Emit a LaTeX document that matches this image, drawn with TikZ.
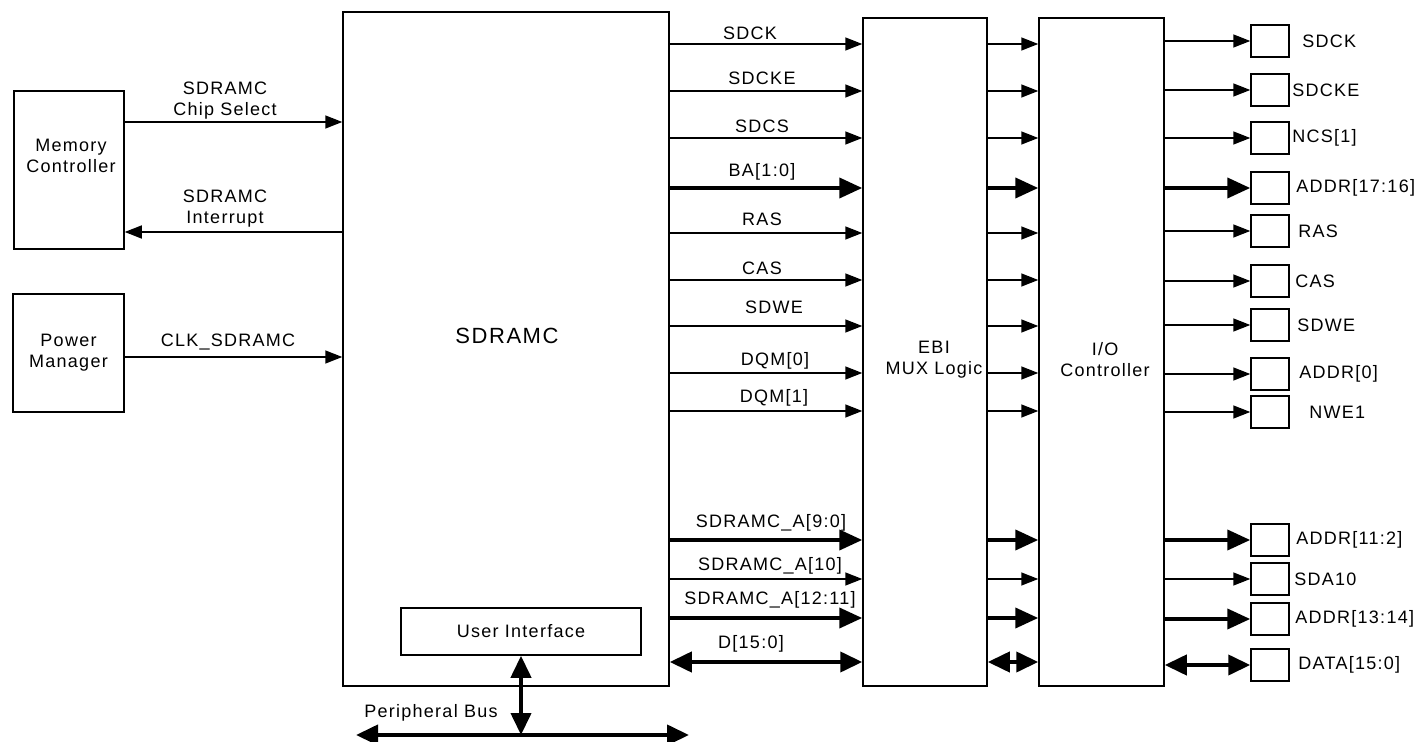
\documentclass[tikz,border=0pt]{standalone}
\usepackage{fontspec}
\setmainfont{Liberation Sans}[LetterSpace=7]
\usetikzlibrary{arrows.meta}

\tikzset{
  block/.style  = {draw, line width = 0.75pt, inner sep = 0pt, align = center},
  pinbox/.style = {draw, line width = 0.75pt, inner sep = 0pt,
                   minimum width = 19pt, minimum height = 16pt},
  txt/.style    = {inner sep = 0pt, align = center},
  sig/.style    = {line width = 0.8pt, -{Triangle[length=8.5pt, width=6.5pt]}},
  bus/.style    = {line width = 2pt, -{Triangle[length=11.5pt, width=10pt]}},
  dbus/.style   = {line width = 2pt,
                   {Triangle[length=11pt, width=10pt]}-{Triangle[length=11pt, width=10pt]}}
}

\begin{document}
\begin{tikzpicture}[x=0.5pt, y=-0.5pt, font=\fontsize{9}{10.5}\selectfont]
  \useasboundingbox (0,0) rectangle (1418,742);

  % blocks
  \node[block, minimum width=55pt,  minimum height=79pt]  (mc)     at (69,170)    {};
  \node[block, minimum width=55.5pt, minimum height=59pt] (pm)     at (68.5,353)  {Power\\Manager};
  \node[block, minimum width=163pt, minimum height=337pt] (sdramc) at (506,349)   {};
  \node[block, minimum width=120pt, minimum height=23.5pt] (ui)    at (521,631.5) {User Interface};
  \node[block, minimum width=62pt,  minimum height=334pt] (ebi)    at (925,352)   {};
  \node[block, minimum width=62.5pt, minimum height=334pt] (io)    at (1101.5,352) {};

  \node[txt] (mctext)     at (71,156)   {Memory\\Controller};
  \node[txt, font=\fontsize{11}{13}\selectfont] (sdramctext) at (507,336) {SDRAMC};
  \node[txt] (ebitext)    at (934,360)  {EBI\\MUX Logic};
  \node[txt] (iotext)     at (1105,360) {I/O\\Controller};

  % left side
  \draw[sig] (mc.east |- 0,122) -- (sdramc.west |- 0,122);
  \draw[sig] (sdramc.west |- 0,232) -- (mc.east |- 0,232);
  \draw[sig] (pm.east |- 0,357) -- (sdramc.west |- 0,357);
  \node[txt] (cslabel)  at (225,101) {SDRAMC\\Chip Select};
  \node[txt] (irqlabel) at (225,209) {SDRAMC\\Interrupt};
  \node[txt] (clklabel) at (228,342) {CLK\_SDRAMC};

  % SDRAMC -> EBI -> I/O
  \foreach \y/\lx/\ly/\sigtext/\kind in {
      44/750/33/SDCK/sig,
      91/762/78/SDCKE/sig,
      138/762/126/SDCS/sig,
      188/762/172/{BA[1:0]}/bus,
      233/762/219/RAS/sig,
      280/762/268/CAS/sig,
      326/774/307/SDWE/sig,
      373/775/361/{DQM[0]}/sig,
      411/774/398/{DQM[1]}/sig,
      540/771/523/{SDRAMC\_A[9:0]}/bus,
      579/770/566/{SDRAMC\_A[10]}/sig,
      618/770/600/{SDRAMC\_A[12:11]}/bus,
      662/751/644/{D[15:0]}/dbus}{
    \draw[\kind] (sdramc.east |- 0,\y) -- (ebi.west |- 0,\y);
    \draw[\kind] (ebi.east |- 0,\y) -- (io.west |- 0,\y);
    \node[txt] (siglabel\y) at (\lx,\ly) {\sigtext};
  }

  % pins
  \foreach \n/\y/\lx/\sigtext/\kind in {
      1/41/1302/SDCK/sig,
      2/90/1292/SDCKE/sig,
      3/138/1292/{NCS[1]}/sig,
      4/188/1296/{ADDR[17:16]}/bus,
      5/231/1298/RAS/sig,
      6/281/1295/CAS/sig,
      7/325/1297/SDWE/sig,
      8/374/1299/{ADDR[0]}/sig,
      9/412/1309/NWE1/sig,
      10/540/1296/{ADDR[11:2]}/bus,
      11/579/1294/SDA10/sig,
      12/619/1295/{ADDR[13:14]}/bus,
      13/665/1298/{DATA[15:0]}/dbus}{
    \node[pinbox] (pin\n) at (1270,\y) {};
    \draw[\kind] (io.east |- pin\n.west) -- (pin\n.west);
    \node[txt, anchor=west] (pinlabel\n) at (\lx,\y) {\sigtext};
  }

  % peripheral bus
  \coordinate (pbleft)  at (356,735);
  \coordinate (pbright) at (689,735);
  \draw[dbus] (pbleft) -- (pbright);
  \draw[dbus] (ui.south) -- (ui.south |- pbleft);
  \node[txt] (pblabel) at (431,713) {Peripheral Bus};
\end{tikzpicture}
\end{document}
